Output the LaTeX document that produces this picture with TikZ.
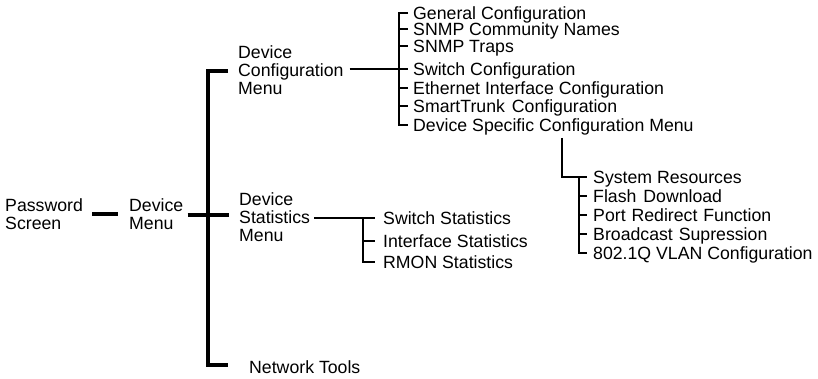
\documentclass[tikz,border=0pt]{standalone}
\usepackage{fontspec}
\setmainfont{Liberation Sans}
\begin{document}
\begin{tikzpicture}[x=1pt,y=-1pt,
  lbl/.style={anchor=west, inner sep=0pt, font=\fontsize{17.7}{17.8}\selectfont, align=left},
  item/.style={anchor=west, inner sep=0pt, font=\fontsize{17.7}{17.8}\selectfont, text height=12.7pt, text depth=0pt},
  heavy/.style={line width=3.5pt, line join=miter, line cap=butt},
  light/.style={line width=2pt, line join=miter, line cap=butt}]
\useasboundingbox (0,0) rectangle (818,379);

% main labels
\node[lbl] (pw) at (5,214) {Password\\Screen};
\node[lbl] (dm) at (129,214) {Device\\Menu};
\node[lbl] (dcm) at (238,70) {Device\\Configuration\\Menu};
\node[lbl] (dsm) at (239,217) {Device\\Statistics\\Menu};
\node[item] (nt) at (249,367) {Network Tools};

% configuration items
\node[item] (gc) at (413,13.5) {General Configuration};
\node[item] (scn) at (413,29.5) {SNMP Community Names};
\node[item] (st) at (413,46) {SNMP Traps};
\node[item] (sc) at (413,69) {Switch Configuration};
\node[item] (eic) at (413,88) {Ethernet Interface Configuration};
\node[item] (stc) at (413,106) {SmartTrunk\hspace{2pt} Configuration};
\node[item] (dscm) at (413,125) {Device Specific Configuration Menu};

% statistics items
\node[item] (ss) at (383,218) {Switch Statistics};
\node[item] (is) at (383,241) {Interface Statistics};
\node[item] (rs) at (383,262) {RMON Statistics};

% device specific items
\node[item] (sr) at (593,177) {System Resources};
\node[item] (fd) at (593,196) {Flash\hspace{2pt} Download};
\node[item] (prf) at (593,215) {Port\hspace{1pt} Redirect\hspace{1pt} Function};
\node[item] (bs) at (593,234) {Broadcast\hspace{1pt} Supression};
\node[item] (vc) at (593,253) {802.1Q VLAN Configuration};

% coordinates
\coordinate (bT) at (208,71);
\coordinate (bM) at (208,215);
\coordinate (bB) at (208,365);
\coordinate (cbus) at (399,0);
\coordinate (stbus) at (363,0);
\coordinate (dsTop) at (562,138);
\coordinate (sbus) at (579,0);

% main connectors
\draw[heavy] ([xshift=9pt]pw.east) -- ([xshift=-11pt]dm.west);
\draw[heavy] ([xshift=4pt]dm.east |- bM) -- ([xshift=-10pt]dsm.west |- bM);
\draw[heavy] ([xshift=-10pt]dcm.west |- bT) -- (bT) -- (bB) -- ([xshift=-21pt]nt.west |- bB);

% configuration tree
\draw[light] ([xshift=6pt]dcm.east |- sc.west) -- (sc.west -| cbus);
\draw[light] ([xshift=-5pt]gc.west) -- (gc.west -| cbus) -- (dscm.west -| cbus) -- ([xshift=-5pt]dscm.west);
\foreach \n in {scn,st,sc,eic,stc}
  \draw[light] (\n.west -| cbus) -- ([xshift=-5pt]\n.west);

% statistics tree
\draw[light] ([xshift=4pt]dsm.east |- ss.west) -- ([xshift=-8pt]ss.west);
\draw[light] (ss.west -| stbus) -- (rs.west -| stbus) -- ([xshift=-8pt]rs.west);
\draw[light] (is.west -| stbus) -- ([xshift=-8pt]is.west);

% device specific tree
\draw[light] (dsTop) -- (dsTop |- sr.west) -- ([xshift=-6pt]sr.west);
\draw[light] (sr.west -| sbus) -- (vc.west -| sbus) -- ([xshift=-6pt]vc.west);
\foreach \n in {fd,prf,bs}
  \draw[light] (\n.west -| sbus) -- ([xshift=-6pt]\n.west);
\end{tikzpicture}
\end{document}
